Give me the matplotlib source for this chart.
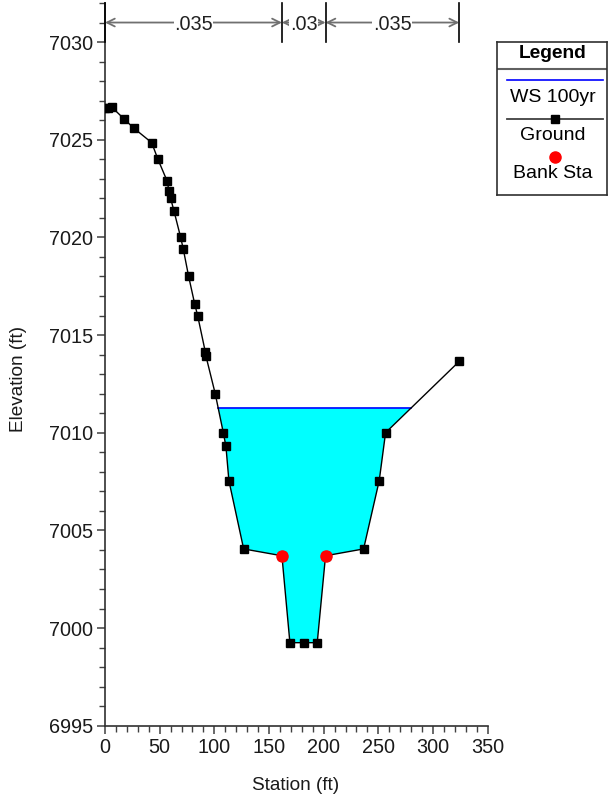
import numpy as np
import matplotlib
matplotlib.use("Agg")
import matplotlib.pyplot as plt
from matplotlib.ticker import MultipleLocator

plt.rcParams['font.family'] = ['Liberation Sans', 'DejaVu Sans']

# ---- data ----
station = [0, 2.5, 6, 17.7, 26.2, 42.7, 48.4, 56.7, 58.5, 60.0, 63.1, 69.2, 71.6,
           76.5, 82.0, 84.7, 91.7, 92.2, 100.8, 108.2, 110.6, 113.3, 126.8, 161.8,
           169.1, 181.6, 194.1, 201.7, 236.5, 250.8, 256.6, 323.9]
elevation = [7026.6, 7026.62, 7026.68, 7026.05, 7025.6, 7024.85, 7024.0, 7022.9, 7022.4,
             7022.0, 7021.35, 7020.0, 7019.4, 7018.0, 7016.6, 7016.0, 7014.15, 7013.95,
             7012.0, 7010.0, 7009.3, 7007.55, 7004.05, 7003.7, 6999.25, 6999.25,
             6999.25, 7003.7, 7004.05, 7007.55, 7010.0, 7013.65]
bank_sta = [161.8, 201.7]
bank_elev = [7003.7, 7003.7]
ws_elev = 7011.28
n_breaks = [0, 161.8, 201.7, 323.9]
n_values = [".035", ".03", ".035"]
legend_labels = ["WS 100yr", "Ground", "Bank Sta"]

W, H = 613, 798
fig = plt.figure(figsize=(W / 100, H / 100), dpi=100)
x0, x1 = 105, 487.7
y0, y1 = 725.7, 3
ax = fig.add_axes([x0 / W, 1 - y0 / H, (x1 - x0) / W, (y0 - y1) / H])
ax.set_xlim(0, 350)
ax.set_ylim(6995, 7032)

# ---- water fill: find where water surface meets ground ----
st = np.array(station)
el = np.array(elevation)
xs = []
for i in range(len(st) - 1):
    a, b = el[i] - ws_elev, el[i + 1] - ws_elev
    if a * b < 0:
        t = a / (a - b)
        xs.append(st[i] + t * (st[i + 1] - st[i]))
xl, xr = xs[0], xs[-1]
inside = (st > xl) & (st < xr)
poly_x = np.concatenate([[xl], st[inside], [xr]])
poly_y = np.concatenate([[ws_elev], el[inside], [ws_elev]])
ax.fill(poly_x, poly_y, color='#00FFFF', lw=0, zorder=1)
ax.plot([xl, xr], [ws_elev, ws_elev], color='#0000FF', lw=1.2, zorder=2)

ax.plot(station, elevation, color='black', lw=1.0, marker='s', ms=5.3,
        mfc='black', mec='black', zorder=3)
ax.plot(bank_sta, bank_elev, 'o', color='#FF0000', ms=8, mec='#FF0000', zorder=4)

# ---- Manning's n annotation ----
for b in n_breaks:
    ax.plot([b, b], [7030, 7032], color='black', lw=1.2, clip_on=False, zorder=5)
ya = 7031.0
for i, lab in enumerate(n_values):
    a, b = n_breaks[i], n_breaks[i + 1]
    ax.annotate('', xy=(a, ya), xytext=(b, ya),
                arrowprops=dict(arrowstyle='<->', color='#707070', lw=1.3,
                                shrinkA=0, shrinkB=0, mutation_scale=14),
                annotation_clip=False)
    ax.text((a + b) / 2, ya - 0.1, lab, ha='center', va='center', fontsize=14.3,
            color='#202020', zorder=6,
            bbox=dict(facecolor='white', edgecolor='none', pad=0.5))

# ---- axes styling ----
for s in ['top', 'right']:
    ax.spines[s].set_visible(False)
for s in ['left', 'bottom']:
    ax.spines[s].set_color('#303030')
    ax.spines[s].set_linewidth(1.2)
ax.xaxis.set_major_locator(MultipleLocator(50))
ax.xaxis.set_minor_locator(MultipleLocator(10))
ax.yaxis.set_major_locator(MultipleLocator(5))
ax.yaxis.set_minor_locator(MultipleLocator(1))
ax.tick_params(which='major', direction='out', length=6, width=1.1, color='#404040',
               labelsize=14.3, pad=2.5, labelcolor='#1a1a1a')
ax.tick_params(which='minor', direction='out', length=4, width=1.0, color='#404040')
ax.set_xticks(np.arange(0, 351, 50))
ax.set_yticks(np.arange(6995, 7031, 5))
ax.set_yticklabels([f"{v:d}" for v in range(6995, 7031, 5)])

fig.text(296 / W, 1 - 785 / H, "Station (ft)", ha='center', va='center', fontsize=13.7,
         color='#1a1a1a')
fig.text(19 / W, 1 - 379 / H, "Elevation (ft)", ha='center', va='center', fontsize=13.7,
         rotation=90, color='#1a1a1a')

# ---- legend box ----
lx0, ly0, lx1, ly1 = 497, 42, 607, 195
lax = fig.add_axes([lx0 / W, 1 - ly1 / H, (lx1 - lx0) / W, (ly1 - ly0) / H])
lax.set_xlim(lx0, lx1)
lax.set_ylim(ly1, ly0)
lax.set_xticks([])
lax.set_yticks([])
for s in lax.spines.values():
    s.set_color('#303030')
    s.set_linewidth(1.2)
cx = (lx0 + lx1) / 2 + 0.5
lax.text(cx, 54, "Legend", ha='center', va='center', fontsize=13.8, fontweight='bold')
lax.plot([lx0, lx1], [68.5, 68.5], color='#606060', lw=1.5)
lax.plot([507, 603], [80.3, 80.3], color='#0000FF', lw=1.2)
lax.text(cx, 98, legend_labels[0], ha='center', va='center', fontsize=14)
lax.plot([507, 603], [119, 119], color='#404040', lw=1.3)
lax.plot([555], [119], 's', color='black', ms=5.3)
lax.text(cx, 136, legend_labels[1], ha='center', va='center', fontsize=14)
lax.plot([555], [157], 'o', color='#FF0000', ms=8)
lax.text(cx, 174, legend_labels[2], ha='center', va='center', fontsize=14)

fig.savefig("out.png", dpi=100)
